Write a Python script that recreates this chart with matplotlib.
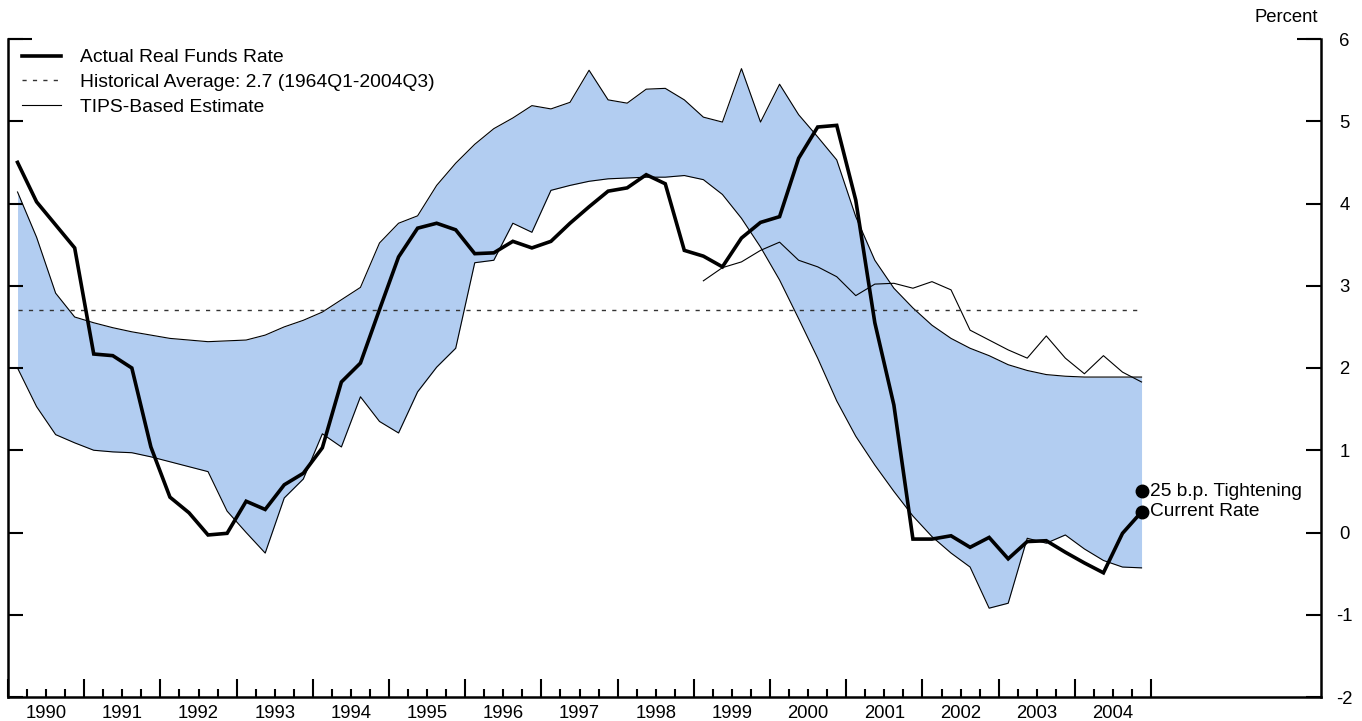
import numpy as np
import matplotlib.pyplot as plt
from matplotlib.lines import Line2D

plt.rcParams['font.family'] = ['Liberation Sans', 'DejaVu Sans']
plt.rcParams['axes.unicode_minus'] = False

# quarterly data, 1990Q1 - 2004Q4
actual = [4.50, 4.02, 3.74, 3.46, 2.17, 2.15, 2.00, 1.04, 0.43, 0.24,
          -0.03, -0.01, 0.38, 0.28, 0.58, 0.72, 1.03, 1.83, 2.06, 2.71,
          3.35, 3.70, 3.76, 3.68, 3.39, 3.40, 3.54, 3.46, 3.54, 3.76,
          3.96, 4.15, 4.19, 4.35, 4.24, 3.43, 3.36, 3.23, 3.58, 3.77,
          3.84, 4.55, 4.93, 4.95, 4.04, 2.55, 1.55, -0.08, -0.08, -0.04,
          -0.18, -0.06, -0.32, -0.11, -0.10, -0.24, -0.37, -0.49, -0.01, 0.25]

band_upper = [4.14, 3.59, 2.91, 2.62, 2.55, 2.49, 2.44, 2.40, 2.36, 2.34,
              2.32, 2.33, 2.34, 2.40, 2.50, 2.58, 2.68, 2.83, 2.98, 3.52,
              3.76, 3.85, 4.22, 4.49, 4.72, 4.91, 5.04, 5.19, 5.15, 5.23,
              5.62, 5.26, 5.22, 5.39, 5.40, 5.26, 5.05, 4.99, 5.64, 4.99,
              5.45, 5.08, 4.81, 4.53, 3.84, 3.31, 2.97, 2.73, 2.52, 2.36,
              2.24, 2.15, 2.04, 1.97, 1.92, 1.90, 1.89, 1.89, 1.89, 1.89]

band_lower = [2.00, 1.53, 1.19, 1.09, 1.00, 0.98, 0.97, 0.92, 0.86, 0.80,
              0.74, 0.26, 0.00, -0.25, 0.42, 0.65, 1.20, 1.04, 1.65, 1.35,
              1.21, 1.71, 2.01, 2.24, 3.28, 3.31, 3.76, 3.65, 4.16, 4.22,
              4.27, 4.30, 4.31, 4.32, 4.32, 4.34, 4.29, 4.11, 3.82, 3.47,
              3.07, 2.60, 2.12, 1.60, 1.17, 0.82, 0.50, 0.20, -0.05, -0.25,
              -0.42, -0.92, -0.86, -0.07, -0.13, -0.03, -0.20, -0.34, -0.42, -0.43]

# TIPS-based estimate, 1999Q1 - 2004Q4
tips = [3.06, 3.22, 3.29, 3.43, 3.53, 3.31, 3.23, 3.11, 2.88, 3.02,
        3.03, 2.97, 3.05, 2.95, 2.46, 2.34, 2.22, 2.12, 2.39, 2.12,
        1.93, 2.15, 1.95, 1.83]

hist_avg = 2.7
tightening = 0.50
current = 0.25
year_labels = [str(y) for y in range(1990, 2005)]

x = 1990 + (np.arange(len(actual)) + 0.5) / 4
x_tips = x[-len(tips):]

fig = plt.figure(figsize=(13.62, 7.21), dpi=100)
ax = fig.add_axes([8 / 1362, 24 / 721, 1313 / 1362, 658 / 721])

band_color = '#b2cdf1'
ax.fill_between(x, band_lower, band_upper, color=band_color, lw=0)
ax.plot(x, band_upper, color='black', lw=0.8)
ax.plot(x, band_lower, color='black', lw=0.8)
ax.plot([x[0], x[-1]], [hist_avg, hist_avg], color='#333333', lw=1.0,
        linestyle=(0, (3, 4.5)))
ax.plot(x_tips, tips, color='black', lw=0.8)
ax.plot(x, actual, color='black', lw=2.6, solid_joinstyle='miter')

ax.plot([x[-1]], [tightening], 'o', color='black', ms=9)
ax.plot([x[-1]], [current], 'o', color='black', ms=9)
ax.annotate('25 b.p. Tightening', (x[-1], tightening), xytext=(6, 0),
            textcoords='offset points', va='center', fontsize=13.8)
ax.annotate('Current Rate', (x[-1], current), xytext=(6, 0),
            textcoords='offset points', va='center', fontsize=13.8)

ax.set_xlim(1990, 2007.23)
ax.set_ylim(-2, 6)

for s in ['left', 'right', 'bottom']:
    ax.spines[s].set_linewidth(1.8)
ax.spines['top'].set_visible(False)

# x axis: year boundaries (major) and quarters (minor), labels centred on years
ax.set_xticks(np.arange(1990, 2006))
ax.set_xticks(np.arange(1990, 2005, 0.25), minor=True)
ax.tick_params(axis='x', which='major', direction='in', length=13, width=1.5,
               labelbottom=False)
ax.tick_params(axis='x', which='minor', direction='in', length=6, width=1.5)
sec = ax.secondary_xaxis('bottom')
sec.set_xticks(np.arange(1990, 2005) + 0.5, year_labels)
sec.tick_params(length=0, pad=6, labelsize=13.3)
sec.spines['bottom'].set_visible(False)

# y axis: ticks both sides, labels on the right
ax.yaxis.remove_overlapping_locs = False
ax.set_yticks(np.arange(-2, 7))
ax.set_yticks([6], minor=True)
ax.tick_params(axis='y', which='major', direction='in', length=11, width=1.5,
               left=True, right=True, labelleft=False, labelright=True,
               labelsize=13.3, pad=17)
ax.tick_params(axis='y', which='minor', direction='in', length=17, width=1.5,
               left=True, right=True, labelleft=False, labelright=False)
for lbl in ax.get_yticklabels():
    lbl.set_horizontalalignment('center')

fig.text(1318 / 1362, 1 - 17 / 721, 'Percent', ha='right', va='center',
         fontsize=13.3)

handles = [Line2D([], [], color='black', lw=2.6),
           Line2D([], [], color='#333333', lw=1.0, linestyle=(0, (3, 4.5))),
           Line2D([], [], color='black', lw=0.8)]
labels = ['Actual Real Funds Rate',
          'Historical Average: 2.7 (1964Q1-2004Q3)',
          'TIPS-Based Estimate']
ax.legend(handles, labels, loc='upper left', bbox_to_anchor=(0.0107, 0.985),
          frameon=False, fontsize=13.9, handlelength=2.0, handletextpad=1.0,
          labelspacing=0.38, borderpad=0, borderaxespad=0)

fig.savefig('out.png', dpi=100)
